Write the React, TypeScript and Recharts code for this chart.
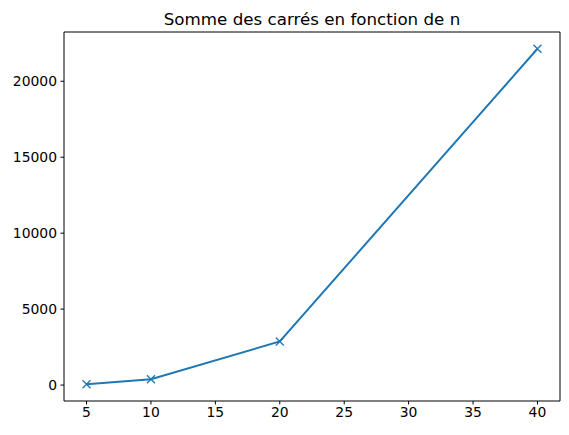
import React from "react";
import { LineChart, Line, XAxis, YAxis, ReferenceLine } from "recharts";

const nValues = [5, 10, 20, 40];
const sumSquares = [55, 385, 2870, 22140];
const xTicks = [5, 10, 15, 20, 25, 30, 35, 40];
const yTicks = [0, 5000, 10000, 15000, 20000];
const title = "Somme des carrés en fonction de n";

const X_DOMAIN: [number, number] = [3.25, 41.75];
const Y_DOMAIN: [number, number] = [-1049, 23244];

const data = nValues.map((n, i) => ({ n, s: sumSquares[i] }));

const COLOR = "#1f77b4";
const FONT = "DejaVu Sans, sans-serif";

const XDot = (props: any) => {
  const { cx, cy, index } = props;
  if (cx == null || cy == null) return <g key={index} />;
  const r = 4;
  return (
    <path
      key={index}
      d={`M${cx - r},${cy - r}L${cx + r},${cy + r}M${cx - r},${cy + r}L${cx + r},${cy - r}`}
      stroke={COLOR}
      strokeWidth={1.3}
      fill="none"
    />
  );
};

export default function App() {
  return (
    <div style={{ position: "fixed", left: 0, top: 0, width: 569, height: 435, background: "#fff" }}>
      <svg width={569} height={40} style={{ position: "absolute", left: 0, top: 0 }}>
        <text x={312} y={25} textAnchor="middle" fontFamily={FONT} fontSize={16.7} fill="#000">
          {title}
        </text>
      </svg>
      <div style={{ position: "absolute", left: 0, top: 0 }}>
        <LineChart
          width={569}
          height={435}
          data={data}
          margin={{ top: 32, right: 9, bottom: 0, left: 0 }}
        >
          <XAxis
            dataKey="n"
            type="number"
            domain={X_DOMAIN}
            ticks={xTicks}
            allowDataOverflow
            height={34}
            tickSize={3.5}
            tickMargin={3}
            stroke="#000"
            tick={{ fill: "#000", fontSize: 13.9, fontFamily: FONT }}
            axisLine={{ stroke: "#000", strokeWidth: 1 }}
            tickLine={{ stroke: "#000", strokeWidth: 1 }}
          />
          <YAxis
            type="number"
            domain={Y_DOMAIN}
            ticks={yTicks}
            allowDataOverflow
            width={64}
            tickSize={3.5}
            tickMargin={3.5}
            stroke="#000"
            tick={{ fill: "#000", fontSize: 13.9, fontFamily: FONT }}
            axisLine={{ stroke: "#000", strokeWidth: 1 }}
            tickLine={{ stroke: "#000", strokeWidth: 1 }}
          />
          <ReferenceLine y={Y_DOMAIN[1]} stroke="#000" strokeWidth={1} ifOverflow="visible" />
          <ReferenceLine x={X_DOMAIN[1]} stroke="#000" strokeWidth={1} ifOverflow="visible" />
          <Line
            type="linear"
            dataKey="s"
            stroke={COLOR}
            strokeWidth={2}
            dot={XDot}
            activeDot={false}
            isAnimationActive={false}
          />
        </LineChart>
      </div>
    </div>
  );
}
